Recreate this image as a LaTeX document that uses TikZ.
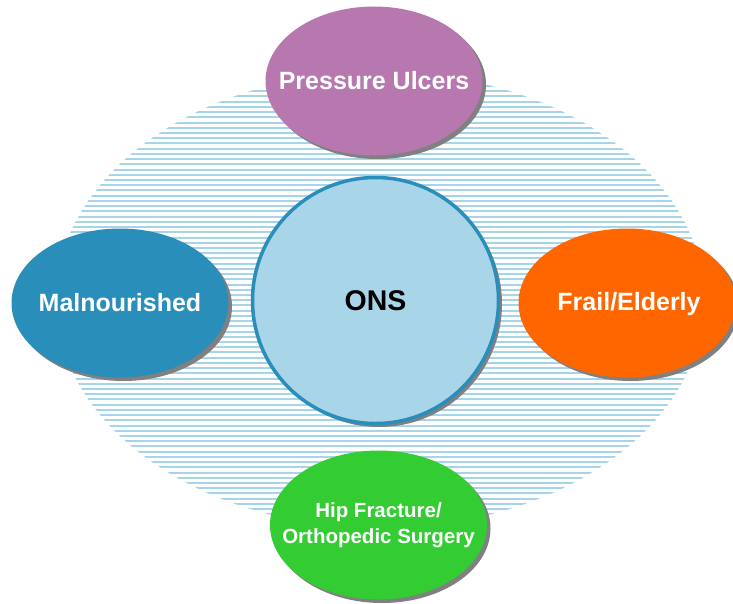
\documentclass[tikz,border=0pt]{standalone}
\usepackage{fontspec}
\setmainfont{Liberation Sans}
\usetikzlibrary{shapes.geometric,shadows}
\definecolor{hatchblue}{RGB}{166,212,232}
\definecolor{ulcer}{RGB}{183,120,176}
\definecolor{malblue}{RGB}{42,142,186}
\definecolor{onsfill}{RGB}{169,213,233}
\definecolor{frail}{RGB}{255,102,0}
\definecolor{hipgreen}{RGB}{51,204,51}
\definecolor{shadowgray}{RGB}{128,128,128}
\tikzset{
  blob/.style={ellipse, inner sep=0pt, outer sep=0pt, minimum width=217pt, minimum height=149pt,
    drop shadow={shadow xshift=3.5pt, shadow yshift=-3.5pt, fill=shadowgray, opacity=1}},
  whitetext/.style={text=white, font=\fontsize{25}{30}\selectfont\bfseries, inner sep=0pt},
}
\begin{document}
\begin{tikzpicture}[x=1pt,y=-1pt]
\useasboundingbox (0,0) rectangle (733,603);
\begin{scope}
  \clip (380,300) ellipse [x radius=324pt, y radius=228pt];
  \foreach \i in {-4,...,86} {
    \draw[hatchblue, line width=2pt] (40,86+5.224*\i) -- (720,86+5.224*\i);
  }
\end{scope}
\node[blob, fill=ulcer] (pu) at (374,81) {};
\node[whitetext] (putxt) at (pu.center) {Pressure Ulcers};
\node[blob, fill=malblue] (mal) at (120,303) {};
\node[whitetext] (maltxt) at (mal.center) {Malnourished};
\node[blob, fill=frail] (fe) at (627,303) {};
\node[whitetext] (fetxt) at (629,304) {Frail/Elderly};
\node[blob, fill=hipgreen] (hip) at (378.5,525) {};
\node[text=white, font=\fontsize{20.5}{26}\selectfont\bfseries, align=center, inner sep=0pt] (hiptxt) at (hip.center) {Hip Fracture/\\Orthopedic Surgery};
\node[circle, fill=onsfill, draw=malblue, line width=3.5pt, minimum size=246pt, inner sep=0pt,
  drop shadow={shadow xshift=3.5pt, shadow yshift=-3.5pt, fill=shadowgray, opacity=1}] (ons) at (375.5,300.5) {};
\node[font=\fontsize{28.5}{34}\selectfont\bfseries, text=black, inner sep=0pt] (onstxt) at (ons.center) {ONS};
\end{tikzpicture}
\end{document}
